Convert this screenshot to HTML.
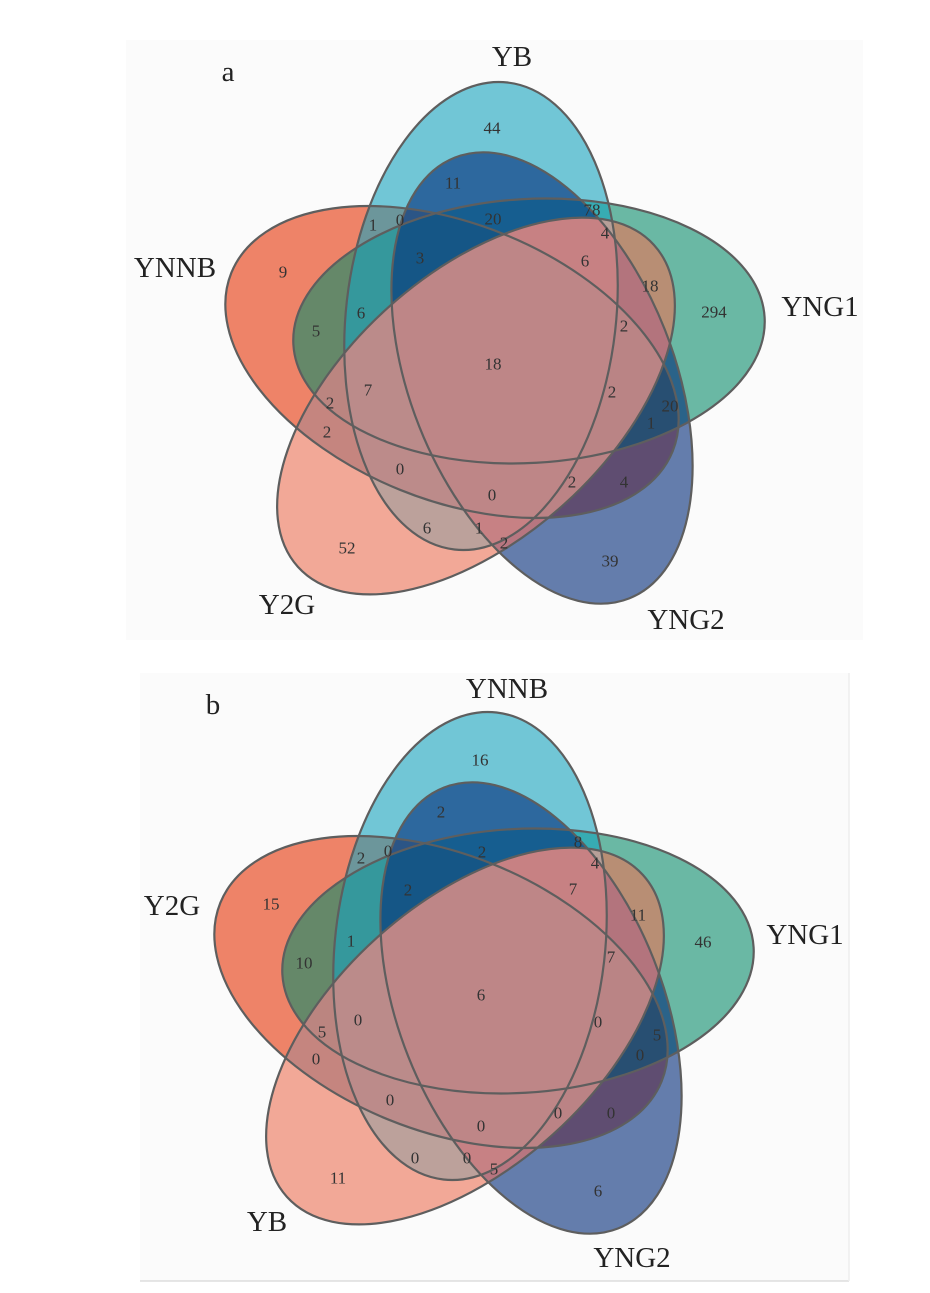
<!DOCTYPE html>
<html><head><meta charset="utf-8"><style>
html,body{margin:0;padding:0;background:#fff;}
svg{display:block;}
text{font-family:"Liberation Serif",serif;}
.n{font-size:17px;fill:#333;text-anchor:middle;dominant-baseline:central;}
.l{font-size:29px;fill:#222;text-anchor:middle;dominant-baseline:central;}
.o use{fill:none;stroke:#5e5e5e;stroke-width:2.2;}
</style></head><body>
<svg width="930" height="1293" viewBox="0 0 930 1293" xmlns="http://www.w3.org/2000/svg" xmlns:xlink="http://www.w3.org/1999/xlink">
<defs>
<ellipse id="G" cx="529" cy="331" rx="236" ry="132" transform="rotate(-3.3 529 331)"/>
<ellipse id="C" cx="481" cy="316" rx="135" ry="235" transform="rotate(6.5 481 316)"/>
<ellipse id="B" cx="542" cy="378" rx="237" ry="132" transform="rotate(68.4 542 378)"/>
<ellipse id="R" cx="452" cy="362" rx="238" ry="138" transform="rotate(22 452 362)"/>
<ellipse id="S" cx="476" cy="406" rx="240" ry="132" transform="rotate(-42.1 476 406)"/>
<clipPath id="cR"><use href="#R" xlink:href="#R"/></clipPath>
<clipPath id="cC"><use href="#C" xlink:href="#C"/></clipPath>
<clipPath id="cB"><use href="#B" xlink:href="#B"/></clipPath>
<g id="venn">
<use href="#R" xlink:href="#R" fill="rgb(230,52,7)" fill-opacity="0.6"/>
<use href="#G" xlink:href="#G" fill="rgb(10,140,107)" fill-opacity="0.6"/>
<use href="#S" xlink:href="#S" fill="rgb(237,113,85)" fill-opacity="0.6"/>
<use href="#C" xlink:href="#C" fill="rgb(21,163,190)" fill-opacity="0.6"/>
<use href="#B" xlink:href="#B" fill="rgb(0,42,120)" fill-opacity="0.6"/>
<g clip-path="url(#cC)"><use href="#S" xlink:href="#S" fill="rgb(208,160,150)" fill-opacity="0.8"/></g>
<g clip-path="url(#cB)"><use href="#S" xlink:href="#S" fill="rgb(205,125,128)" fill-opacity="0.8"/></g>
<g clip-path="url(#cR)"><use href="#S" xlink:href="#S" fill="rgb(188,136,136)" fill-opacity="0.82"/></g>
<g class="o">
<use href="#R" xlink:href="#R"/><use href="#G" xlink:href="#G"/><use href="#S" xlink:href="#S"/><use href="#C" xlink:href="#C"/><use href="#B" xlink:href="#B"/>
</g>
</g>
</defs>
<rect x="126" y="40" width="737" height="600" fill="#fbfbfb"/>
<rect x="140" y="673" width="709" height="608" fill="#fbfbfb"/>
<line x1="140" y1="1281" x2="849" y2="1281" stroke="#ddd" stroke-width="1.5"/>
<line x1="849" y1="673" x2="849" y2="1281" stroke="#eee" stroke-width="1.5"/>

<use href="#venn" xlink:href="#venn"/>
<use href="#venn" xlink:href="#venn" transform="translate(-11,630)"/>

<text class="l" x="228" y="72">a</text>
<text class="l" x="512" y="57">YB</text>
<text class="l" x="175" y="268">YNNB</text>
<text class="l" x="820" y="307">YNG1</text>
<text class="l" x="287" y="605">Y2G</text>
<text class="l" x="686" y="620">YNG2</text>

<text class="n" x="492" y="128">44</text>
<text class="n" x="453" y="183">11</text>
<text class="n" x="373" y="225">1</text>
<text class="n" x="400" y="220">0</text>
<text class="n" x="493" y="219">20</text>
<text class="n" x="592" y="210">78</text>
<text class="n" x="605" y="233">4</text>
<text class="n" x="283" y="272">9</text>
<text class="n" x="420" y="258">3</text>
<text class="n" x="585" y="261">6</text>
<text class="n" x="650" y="286">18</text>
<text class="n" x="714" y="312">294</text>
<text class="n" x="316" y="331">5</text>
<text class="n" x="361" y="313">6</text>
<text class="n" x="624" y="326">2</text>
<text class="n" x="493" y="364">18</text>
<text class="n" x="368" y="390">7</text>
<text class="n" x="612" y="392">2</text>
<text class="n" x="330" y="403">2</text>
<text class="n" x="670" y="406">20</text>
<text class="n" x="651" y="423">1</text>
<text class="n" x="327" y="432">2</text>
<text class="n" x="400" y="469">0</text>
<text class="n" x="572" y="482">2</text>
<text class="n" x="624" y="482">4</text>
<text class="n" x="492" y="495">0</text>
<text class="n" x="427" y="528">6</text>
<text class="n" x="479" y="528">1</text>
<text class="n" x="504" y="543">2</text>
<text class="n" x="347" y="548">52</text>
<text class="n" x="610" y="561">39</text>

<text class="l" x="213" y="705">b</text>
<text class="l" x="507" y="689">YNNB</text>
<text class="l" x="172" y="906">Y2G</text>
<text class="l" x="805" y="935">YNG1</text>
<text class="l" x="267" y="1222">YB</text>
<text class="l" x="632" y="1258">YNG2</text>

<text class="n" x="480" y="760">16</text>
<text class="n" x="441" y="812">2</text>
<text class="n" x="361" y="858">2</text>
<text class="n" x="388" y="851">0</text>
<text class="n" x="482" y="852">2</text>
<text class="n" x="578" y="842">8</text>
<text class="n" x="595" y="863">4</text>
<text class="n" x="271" y="904">15</text>
<text class="n" x="408" y="890">2</text>
<text class="n" x="573" y="889">7</text>
<text class="n" x="638" y="915">11</text>
<text class="n" x="703" y="942">46</text>
<text class="n" x="304" y="963">10</text>
<text class="n" x="351" y="941">1</text>
<text class="n" x="611" y="957">7</text>
<text class="n" x="481" y="995">6</text>
<text class="n" x="358" y="1020">0</text>
<text class="n" x="598" y="1022">0</text>
<text class="n" x="322" y="1032">5</text>
<text class="n" x="657" y="1035">5</text>
<text class="n" x="640" y="1055">0</text>
<text class="n" x="316" y="1059">0</text>
<text class="n" x="390" y="1100">0</text>
<text class="n" x="558" y="1113">0</text>
<text class="n" x="611" y="1113">0</text>
<text class="n" x="481" y="1126">0</text>
<text class="n" x="415" y="1158">0</text>
<text class="n" x="467" y="1158">0</text>
<text class="n" x="494" y="1169">5</text>
<text class="n" x="338" y="1178">11</text>
<text class="n" x="598" y="1191">6</text>
</svg>
</body></html>
